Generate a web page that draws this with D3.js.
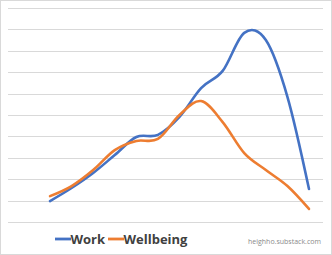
<!DOCTYPE html>
<html><head><meta charset="utf-8">
<script src="https://cdn.jsdelivr.net/npm/d3@7"></script>
<style>html,body{margin:0;padding:0;background:#fff;}svg{display:block;}</style>
</head><body>
<svg id="c" width="332" height="255"></svg>
<script>
const categories = d3.range(13);
const work      = [9.8, 15.9, 22.9, 31.3, 39.7, 40.7, 49.1, 62.6, 70.6, 88.4, 85.0, 58.5, 15.4];
const wellbeing = [12.1, 16.8, 24.3, 33.6, 37.9, 38.8, 50.0, 56.5, 46.7, 32.2, 24.3, 16.8, 6.1];
const yTicks = d3.range(0, 101, 10);
const seriesNames = ["Work", "Wellbeing"];
const colors = ["#4472C4", "#ED7D31"];

const svg = d3.select("#c");
svg.append("rect").attr("x",0.5).attr("y",0.5).attr("width",331).attr("height",254)
  .attr("fill","#fff").attr("stroke","#d9d9d9");

const x = d3.scalePoint().domain(categories).range([50, 309]);
const y = d3.scaleLinear().domain([0, 100]).range([222, 8]);

svg.append("g").selectAll("line").data(yTicks).join("line")
  .attr("x1", 8).attr("x2", 323)
  .attr("y1", d => Math.round(y(d)) + 0.5).attr("y2", d => Math.round(y(d)) + 0.5)
  .attr("stroke", "#d9d9d9").attr("stroke-width", 1);

const line = d3.line().x((d,i) => x(categories[i])).y(d => y(d)).curve(d3.curveCardinal.tension(0));
[work, wellbeing].forEach((s, k) => {
  svg.append("path").datum(s).attr("d", line).attr("fill","none")
    .attr("stroke", colors[k]).attr("stroke-width", 2.6).attr("stroke-linecap","round").attr("stroke-linejoin","round");
});

const lg = svg.append("g");
const legendX = [55, 108];
seriesNames.forEach((n, k) => {
  lg.append("line").attr("x1", legendX[k]).attr("x2", legendX[k] + 16).attr("y1", 239).attr("y2", 239)
    .attr("stroke", colors[k]).attr("stroke-width", 2.8);
  lg.append("text").attr("x", legendX[k] + 15.5).attr("y", 244).text(n)
    .attr("font-family", "'Open Sans', sans-serif").attr("font-size", 13).attr("font-weight", 700).attr("fill", "#404040");
});
svg.append("text").attr("x", 321).attr("y", 244).attr("text-anchor","end").text("heighho.substack.com")
  .attr("font-family", "'Open Sans', sans-serif").attr("font-size", 7).attr("fill", "#8a8a8a");
</script>
</body></html>
